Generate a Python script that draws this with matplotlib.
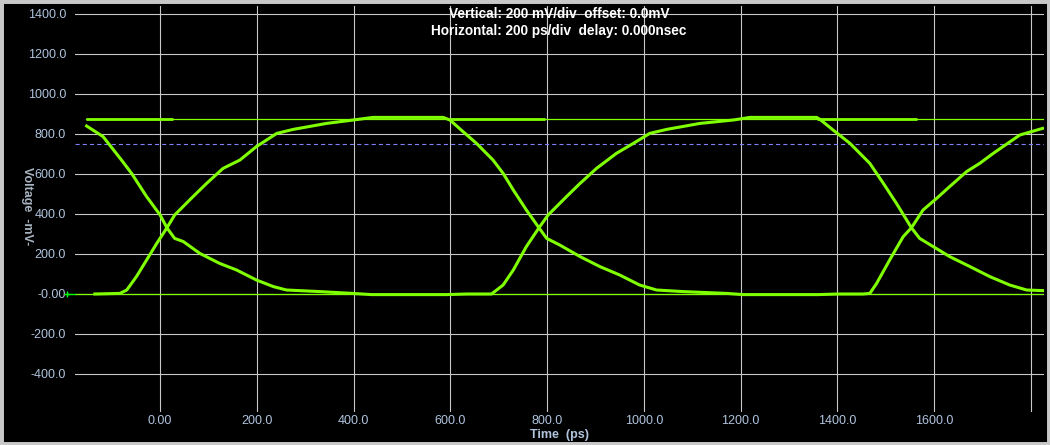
import numpy as np
import matplotlib
matplotlib.use("Agg")
import matplotlib.pyplot as plt
import matplotlib.transforms as mtransforms
from matplotlib.patches import Rectangle

plt.rcParams['font.family'] = ['Liberation Sans', 'DejaVu Sans']
plt.rcParams['lines.scale_dashes'] = False

# trace 1: falling edge, low, rising edge, high, falling edge (ps, mV)
t1 = [-152, -118, -80, -59, -28, 0, 14, 30, 48, 82, 123, 158, 199, 234, 261, 330, 398,
      437, 591, 634, 685,
      709, 730, 757, 783, 802, 840, 868, 902, 943, 978, 1012, 1047, 1116, 1185, 1219, 1357,
      1364, 1391, 1426, 1467, 1495, 1522, 1553, 1570, 1598, 1632, 1674, 1715, 1756, 1791, 1824]
v1 = [840, 787, 670, 603, 487, 395, 331, 278, 262, 203, 153, 120, 70, 37, 20, 12, 3,
      -3, -3, 0, 0,
      45, 120, 237, 331, 395, 487, 553, 628, 703, 753, 803, 823, 853, 870, 883, 883,
      873, 820, 753, 653, 553, 453, 331, 278, 237, 187, 137, 87, 45, 20, 17]

# trace 2: low, rising edge, high, falling edge, low, rising edge
t2 = [-135, -83, -69, -49, -28, -7, 14, 30, 68, 96, 130, 165, 199, 241, 275, 344, 399, 440, 585,
      599, 626, 654, 688, 709, 730, 757, 783, 799, 826, 868, 909, 950, 991, 1026, 1081, 1171,
      1205, 1360, 1401, 1453,
      1467, 1481, 1508, 1536, 1553, 1577, 1605, 1632, 1667, 1694, 1722, 1750, 1777, 1824]
v2 = [0, 3, 20, 87, 170, 253, 331, 395, 487, 553, 628, 670, 737, 803, 823, 853, 870, 883, 883,
      870, 812, 753, 670, 603, 520, 420, 331, 278, 245, 187, 137, 95, 45, 20, 12, 3,
      -3, -3, 0, 0,
      3, 53, 170, 287, 331, 420, 478, 537, 612, 653, 703, 750, 795, 828]

# steady high records (thick pieces of the top rail)
t_hi = [-153, 26, np.nan, 599, 795, np.nan, 1357, 1565]
v_hi = [875, 875, np.nan, 875, 875, np.nan, 875, 875]

# thin rails
t_top = [-153, 1824]
v_top = [875, 875]
t_bot = [-176, 1827]
v_bot = [0, 0]

threshold = 750

xticks = [0, 200, 400, 600, 800, 1000, 1200, 1400, 1600, 1800]
xlabels = ['0.00', '200.0', '400.0', '600.0', '800.0', '1000.0', '1200.0', '1400.0', '1600.0', '']
yticks = [-400, -200, 0, 200, 400, 600, 800, 1000, 1200, 1400]
ylabels = ['-400.0', '-200.0', '-0.00', '200.0', '400.0', '600.0', '800.0', '1000.0', '1200.0', '1400.0']

green = '#80ff00'
label_col = '#b0c4de'

fig = plt.figure(figsize=(10.5, 4.45), dpi=100, facecolor='black')
ax = fig.add_axes([75/1050, 33/445, 969/1050, 406/445])
ax.set_facecolor('black')
for s in ax.spines.values():
    s.set_visible(False)

ax.set_xlim(-176, 1827)
ax.set_ylim(-590, 1440)
ax.set_xticks(xticks)
ax.set_xticklabels(xlabels)
ax.set_yticks(yticks)
ax.set_yticklabels(ylabels)
ax.tick_params(axis='both', length=0, labelsize=9, labelcolor=label_col)
ax.tick_params(axis='y', pad=6.5)
ax.tick_params(axis='x', pad=2.5)
ax.grid(True, color='#c8c8c8', linewidth=0.8)
ax.set_axisbelow(True)

# trigger/threshold level
ax.axhline(threshold, color='#8080ff', linewidth=0.8, dashes=(3, 2.2))

# rails
ax.plot(t_top, v_top, color=green, linewidth=0.9)
ax.plot(t_bot, v_bot, color=green, linewidth=0.9)
ax.plot(t_hi, v_hi, color=green, linewidth=2.0, solid_capstyle='butt')

# eye traces
ax.plot(t1, v1, color=green, linewidth=2.2)
ax.plot(t2, v2, color=green, linewidth=2.2)

# ground marker at left edge
trans = mtransforms.blended_transform_factory(ax.transAxes, ax.transData)
ax.plot([-0.008, 0.0], [0, 0], transform=trans, color='#00ff00', linewidth=1,
        marker='+', markersize=4, markevery=[0], clip_on=False)

ax.set_xlabel('Time  (ps)', fontsize=9, fontweight='bold', color=label_col, labelpad=1)
fig.text(26.5/1050, 1 - 206/445, 'Voltage  -mV-', rotation=-90, fontsize=9, fontweight='bold',
         color='#a8b4c0', ha='center', va='center')

fig.text(559/1050, 1 - 13.5/445, 'Vertical: 200 mV/div  offset: 0.0mV', fontsize=9.8,
         fontweight='bold', color='white', ha='center', va='center')
fig.text(559/1050, 1 - 31/445, 'Horizontal: 200 ps/div  delay: 0.000nsec', fontsize=9.8,
         fontweight='bold', color='white', ha='center', va='center')

# window frame
fig.patches.append(Rectangle((0, 0), 1, 1, transform=fig.transFigure, fill=False,
                             edgecolor='#c8c8c8', linewidth=5, zorder=10))

fig.savefig('out.png', dpi=100, facecolor='black')
